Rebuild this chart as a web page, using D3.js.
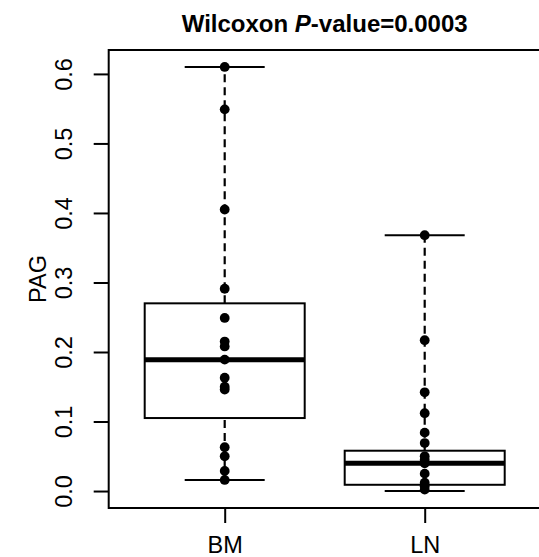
<!DOCTYPE html>
<html>
<head>
<meta charset="utf-8">
<script src="https://cdn.jsdelivr.net/npm/d3@7"></script>
<style>
  body { margin: 0; background: #fff; }
  svg text { font-family: "Liberation Sans", Arial, Helvetica, sans-serif; }
</style>
</head>
<body>
<script>
// groups and raw points
const groups = ["BM", "LN"];
const bmValues = [0.610, 0.549, 0.405, 0.291, 0.249, 0.215, 0.208, 0.189, 0.163, 0.150, 0.146, 0.063, 0.050, 0.029, 0.016];
const lnValues = [0.368, 0.217, 0.142, 0.112, 0.084, 0.069, 0.050, 0.045, 0.040, 0.025, 0.012, 0.007, 0.002];

// box stats: lower whisker, Q1, median, Q3, upper whisker
const bmStats = [0.016, 0.105, 0.189, 0.270, 0.610];
const lnStats = [0.000, 0.009, 0.040, 0.058, 0.368];

const yTicks = [0, 0.1, 0.2, 0.3, 0.4, 0.5, 0.6];

const width = 539;
const height = 557;
const plot = { left: 108.7, right: 540.7, top: 50, bottom: 508 };

const svg = d3.select("body").append("svg")
  .attr("width", width)
  .attr("height", height);

// x: group index 1..2, R style range 0.5..2.5 plus 4%
const x = d3.scaleLinear()
  .domain([0.42, 2.58])
  .range([plot.left, plot.right]);

const yMin = 0, yMax = 0.61;
const pad = (yMax - yMin) * 0.04;
const y = d3.scaleLinear()
  .domain([yMin - pad, yMax + pad])
  .range([plot.bottom, plot.top]);

const boxHalf = 0.4;   // boxwex 0.8
const capHalf = 0.2;

const data = [
  { name: groups[0], stats: bmStats, values: bmValues },
  { name: groups[1], stats: lnStats, values: lnValues }
];

const g = svg.selectAll("g.grp")
  .data(data)
  .join("g")
  .attr("class", "grp");

// dashed whiskers
g.append("line")
  .attr("x1", (d, i) => x(i + 1)).attr("x2", (d, i) => x(i + 1))
  .attr("y1", d => y(d.stats[0])).attr("y2", d => y(d.stats[1]))
  .attr("stroke", "#000").attr("stroke-width", 2.2).attr("stroke-dasharray", "8,5");
g.append("line")
  .attr("x1", (d, i) => x(i + 1)).attr("x2", (d, i) => x(i + 1))
  .attr("y1", d => y(d.stats[3])).attr("y2", d => y(d.stats[4]))
  .attr("stroke", "#000").attr("stroke-width", 2.2).attr("stroke-dasharray", "8,5");

// whisker caps
[0, 4].forEach(k => {
  g.append("line")
    .attr("x1", (d, i) => x(i + 1 - capHalf)).attr("x2", (d, i) => x(i + 1 + capHalf))
    .attr("y1", d => y(d.stats[k])).attr("y2", d => y(d.stats[k]))
    .attr("stroke", "#000").attr("stroke-width", 2);
});

// box
g.append("rect")
  .attr("x", (d, i) => x(i + 1 - boxHalf))
  .attr("width", x(1 + boxHalf) - x(1 - boxHalf))
  .attr("y", d => y(d.stats[3]))
  .attr("height", d => y(d.stats[1]) - y(d.stats[3]))
  .attr("fill", "#fff").attr("stroke", "#000").attr("stroke-width", 2);

// median
g.append("line")
  .attr("x1", (d, i) => x(i + 1 - boxHalf)).attr("x2", (d, i) => x(i + 1 + boxHalf))
  .attr("y1", d => y(d.stats[2])).attr("y2", d => y(d.stats[2]))
  .attr("stroke", "#000").attr("stroke-width", 5);

// points
g.each(function (d, i) {
  d3.select(this).selectAll("circle")
    .data(d.values)
    .join("circle")
    .attr("cx", x(i + 1))
    .attr("cy", v => y(v))
    .attr("r", 4.9)
    .attr("fill", "#000");
});

// plot frame
svg.append("rect")
  .attr("x", plot.left).attr("y", plot.top)
  .attr("width", plot.right - plot.left).attr("height", plot.bottom - plot.top)
  .attr("fill", "none").attr("stroke", "#000").attr("stroke-width", 2);

// y axis
const yAxis = svg.append("g")
  .attr("transform", `translate(${plot.left},0)`)
  .call(d3.axisLeft(y).tickValues(yTicks).tickFormat(d3.format(".1f")).tickSize(15).tickSizeOuter(0));
yAxis.select(".domain").remove();
yAxis.selectAll(".tick line").attr("stroke", "#000").attr("stroke-width", 2);
yAxis.selectAll(".tick text")
  .attr("x", 0).attr("y", -37).attr("dy", 0)
  .attr("transform", "rotate(-90)")
  .attr("text-anchor", "middle")
  .attr("font-size", 23.5)
  .attr("fill", "#000");

// x axis
const xAxis = svg.append("g")
  .attr("transform", `translate(0,${plot.bottom})`)
  .call(d3.axisBottom(x).tickValues([1, 2]).tickFormat((d, i) => groups[i]).tickSize(15).tickPadding(13).tickSizeOuter(0));
xAxis.select(".domain").remove();
xAxis.selectAll(".tick line").attr("stroke", "#000").attr("stroke-width", 2);
xAxis.selectAll(".tick text").attr("font-size", 23.5).attr("fill", "#000");

// y label
svg.append("text")
  .attr("transform", `translate(46,${(plot.top + plot.bottom) / 2}) rotate(-90)`)
  .attr("text-anchor", "middle")
  .attr("font-size", 23.5)
  .text("PAG");

// title
const title = svg.append("text")
  .attr("x", (plot.left + plot.right) / 2)
  .attr("y", 32)
  .attr("text-anchor", "middle")
  .attr("font-size", 24)
  .attr("font-weight", "bold");
title.append("tspan").text("Wilcoxon ");
title.append("tspan").attr("font-style", "italic").text("P");
title.append("tspan").text("-value=0.0003");
</script>
</body>
</html>
